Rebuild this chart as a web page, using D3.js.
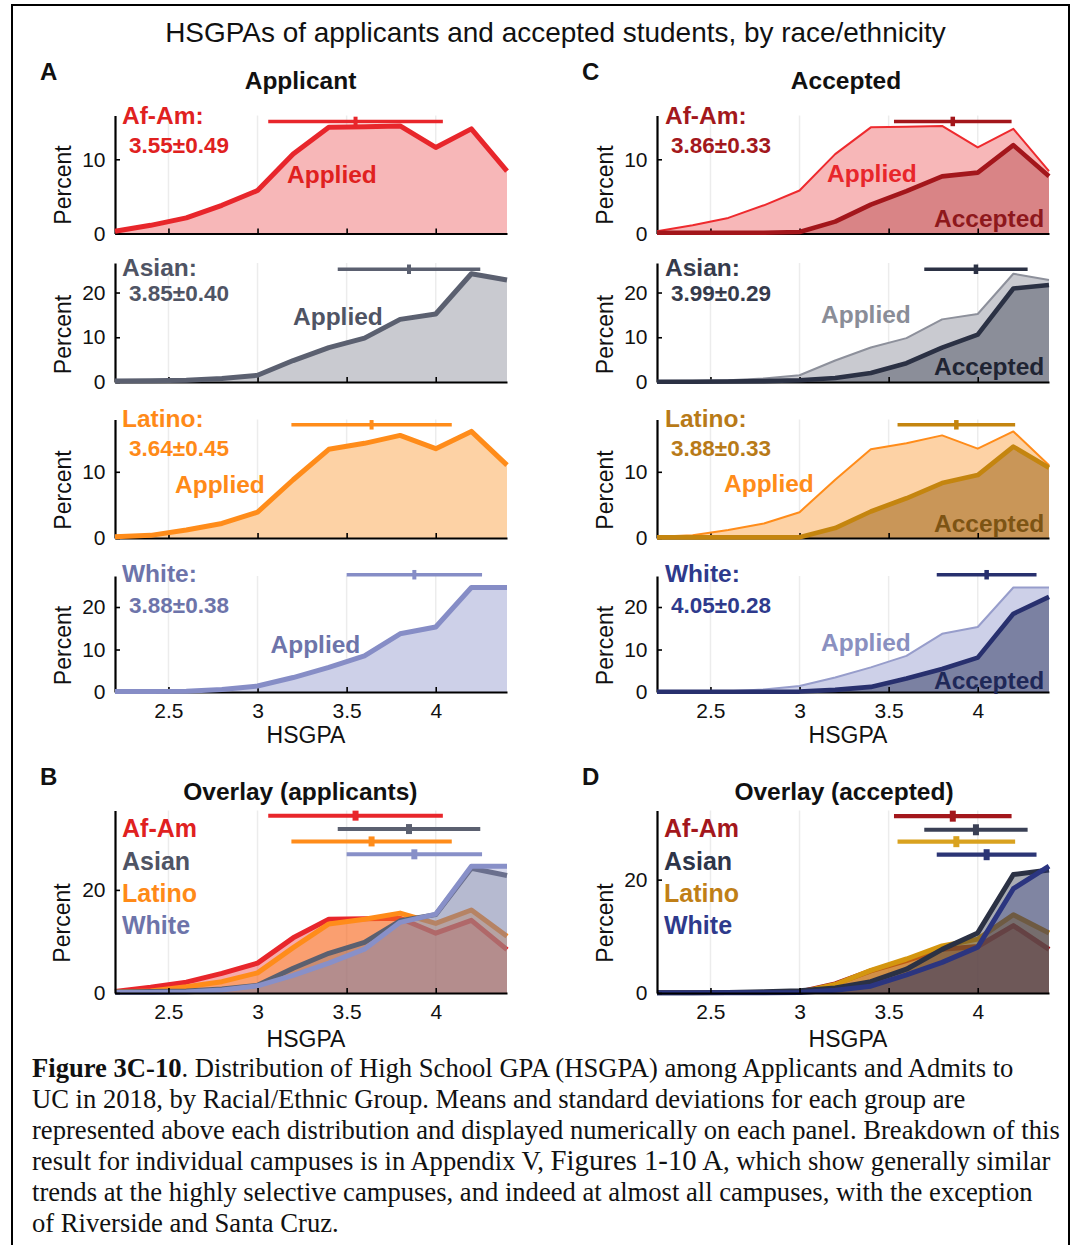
<!DOCTYPE html>
<html><head><meta charset="utf-8">
<script src="https://cdn.jsdelivr.net/npm/d3@7"></script>
<style>body{margin:0;background:#fff} svg{display:block}</style>
</head><body><svg id="c" width="1074" height="1245"></svg>
<script>
// ---------------- DATA ----------------
const gpa = [2.2, 2.4, 2.6, 2.8, 3.0, 3.2, 3.4, 3.6, 3.8, 4.0, 4.2, 4.4];
const groups = ["Af-Am", "Asian", "Latino", "White"];
const appliedAfAm    = [0.3, 1.1, 2.1, 3.8, 5.8, 10.7, 14.3, 14.4, 14.5, 11.6, 14.1, 8.4];
const appliedAsian   = [0.2, 0.3, 0.4, 0.8, 1.5, 4.8, 7.7, 9.8, 14.0, 15.2, 24.2, 22.8];
const appliedLatino  = [0.2, 0.4, 1.2, 2.2, 3.9, 8.8, 13.4, 14.3, 15.5, 13.5, 16.1, 11.0];
const appliedWhite   = [0.1, 0.1, 0.2, 0.6, 1.4, 3.4, 5.8, 8.5, 13.7, 15.3, 24.6, 24.6];
const acceptedAfAm   = [0.1, 0.1, 0.1, 0.1, 0.2, 1.6, 3.9, 5.7, 7.7, 8.2, 11.9, 7.7];
const acceptedAsian  = [0.05, 0.05, 0.1, 0.2, 0.4, 0.9, 2.0, 4.2, 7.7, 10.6, 20.9, 21.7];
const acceptedLatino = [0.1, 0.1, 0.1, 0.1, 0.1, 1.5, 4.0, 6.0, 8.3, 9.5, 13.8, 10.6];
const acceptedWhite  = [0.05, 0.05, 0.05, 0.05, 0.1, 0.5, 1.2, 3.2, 5.4, 8.1, 18.4, 22.4];
const appliedMean  = [3.55, 3.85, 3.64, 3.88];
const appliedSD    = [0.49, 0.40, 0.45, 0.38];
const acceptedMean = [3.86, 3.99, 3.88, 4.05];
const acceptedSD   = [0.33, 0.29, 0.33, 0.28];
const xTicks = [2.5, 3, 3.5, 4];
const rowYTicks = [[0, 10], [0, 10, 20], [0, 10], [0, 10, 20]];
const overlayYTicks = [0, 20];

const applied = [appliedAfAm, appliedAsian, appliedLatino, appliedWhite];
const accepted = [acceptedAfAm, acceptedAsian, acceptedLatino, acceptedWhite];

// ---------------- STYLE ----------------
const FONT = "'Liberation Sans', Arial, Helvetica, sans-serif";
const SERIF = "'Liberation Serif', 'Times New Roman', serif";
const colA      = ["#e8262b", "#5b6070", "#ff8c1a", "#868dc6"];
const fillA     = ["#f7b7b8", "#c9cad0", "#fdd2a5", "#cdd0e8"];
const textA     = ["#e0211f", "#4f5464", "#ff8a18", "#6d74aa"];
const colCApp   = ["#ee2a2e", "#8d909b", "#ff8c1a", "#979dcb"];
const fillCAcc  = ["#d98486", "#8b8e99", "#c99658", "#7b81a2"];
const colAcc    = ["#a3161b", "#2b3144", "#c4850f", "#28306e"];
const textAcc   = ["#a3181c", "#363b4c", "#b87a18", "#2e3a8c"];
const wordAcc   = ["#8e181c", "#1f2433", "#7d5414", "#1f2858"];
const wordCApp  = ["#e8262b", "#8a8d97", "#ff8c1a", "#8a90c0"];
const colB      = ["#e8262b", "#5b6070", "#ff8c1a", "#8890c8"];
const alphaB    = [0.38, 0.3, 0.42, 0.33];
const colD      = ["#a3161b", "#2b3144", "#d4960f", "#2b3580"];
const legD      = ["#a3171c", "#2e3548", "#c07f17", "#2e3a8c"];
const barD      = ["#a3171c", "#3a4055", "#d9a21f", "#2b3575"];
const alphaD    = [0.5, 0.4, 0.55, 0.33];

const svg = d3.select("#c");

// frame
svg.append("path").attr("d", "M12,1245V5H1069V1245").attr("fill", "none")
  .attr("stroke", "#000").attr("stroke-width", 2);

// ---------------- LAYOUT ----------------
const colL = {x0: 115, x1: 507}, colR = {x0: 657, x1: 1049};
const rows = [
  {bottom: 233.5, top: 115.5, yMax: 15.9, bar: 15.1, ylab: 185,  lab: 124,   val: 152.5},
  {bottom: 382,   top: 263,   yMax: 26.6, bar: 25.2, ylab: 334.5, lab: 275.5, val: 301},
  {bottom: 538,   top: 419.5, yMax: 17.9, bar: 17.1, ylab: 490,  lab: 427,   val: 456},
  {bottom: 692,   top: 576,   yMax: 27.3, bar: 27.6, ylab: 645.5, lab: 581.5, val: 613}
];
const appliedWordPosA = [[287, 183], [293, 324.5], [175, 493], [270.5, 653]];
const appliedWordPosC = [[827, 182], [821, 323], [724, 492], [821, 651]];
const acceptedWordY   = [227, 375, 531.5, 689];
const legendY = [837, 869.5, 902, 934];
const barLevelsB = [34.4, 31.8, 29.4, 26.9];
const barLevelsD = [31.2, 28.8, 26.7, 24.4];

function makePanel(p) {
  const x = d3.scaleLinear().domain([2.2, 4.4]).range([p.x0, p.x1]);
  const y = d3.scaleLinear().domain([0, p.yMax]).range([p.bottom, p.top]);
  const g = svg.append("g");
  const gGrid = g.append("g"), gFill = g.append("g"), gAxis = g.append("g"),
        gLine = g.append("g"), gBar = g.append("g"), gText = g.append("g");

  gGrid.selectAll("line").data(xTicks).join("line")
    .attr("x1", d => x(d)).attr("x2", d => x(d))
    .attr("y1", y(0)).attr("y2", y(p.yMax))
    .attr("stroke", "#ececec").attr("stroke-width", 1.5);

  const area = d3.area().x((d, i) => x(gpa[i])).y0(y(0)).y1(d => y(d));
  const line = d3.line().x((d, i) => x(gpa[i])).y(d => y(d));

  p.series.forEach(s => {
    gFill.append("path").datum(s.values).attr("d", area)
      .attr("fill", s.fill).attr("fill-opacity", s.fillOpacity == null ? 1 : s.fillOpacity);
    const lg = p.overlay ? gFill : gLine;
    lg.append("path").datum(s.values).attr("d", line)
      .attr("fill", "none").attr("stroke", s.stroke).attr("stroke-width", s.width)
      .attr("stroke-linejoin", "round").attr("stroke-linecap", "butt");
  });

  const xa = d3.axisBottom(x).tickValues(xTicks).tickSizeInner(-5).tickSizeOuter(0)
    .tickPadding(11).tickFormat(p.showX ? d3.format("") : () => "");
  const ya = d3.axisLeft(y).tickValues(p.yTicks).tickSizeInner(-5).tickSizeOuter(0)
    .tickPadding(9.5).tickFormat(d3.format("d"));
  const gx = gAxis.append("g").attr("transform", `translate(0,${y(0)})`).call(xa);
  const gy = gAxis.append("g").attr("transform", `translate(${p.x0},0)`).call(ya);
  [gx, gy].forEach(a => {
    a.select(".domain").attr("stroke", "#000").attr("stroke-width", 2.2);
    a.selectAll(".tick line").attr("stroke", "#000").attr("stroke-width", 1.6);
    a.selectAll(".tick text").attr("font-family", FONT).attr("font-size", 21).attr("fill", "#111");
  });

  p.bars.forEach(b => {
    gBar.append("line").attr("x1", x(b.mean - b.sd)).attr("x2", x(b.mean + b.sd))
      .attr("y1", y(b.level)).attr("y2", y(b.level))
      .attr("stroke", b.color).attr("stroke-width", p.barW);
    gBar.append("rect").attr("x", x(b.mean) - p.mW / 2).attr("y", y(b.level) - p.mH / 2)
      .attr("width", p.mW).attr("height", p.mH).attr("fill", b.color);
  });

  gText.append("text").attr("transform", `translate(${p.ylabX},${p.ylabY}) rotate(-90)`)
    .attr("text-anchor", "middle").attr("font-family", FONT).attr("font-size", 23)
    .attr("fill", "#111").text("Percent");
  if (p.showX) {
    gText.append("text").attr("x", (p.x0 + p.x1) / 2 - 5).attr("y", p.xlabY)
      .attr("text-anchor", "middle").attr("font-family", FONT).attr("font-size", 23)
      .attr("fill", "#111").text("HSGPA");
  }
  (p.texts || []).forEach(t => {
    gText.append("text").attr("x", t.x).attr("y", t.y).attr("font-family", FONT)
      .attr("font-size", t.size).attr("font-weight", "bold").attr("fill", t.color).text(t.text);
  });
  return {x, y};
}

const fmt = (m, s) => `${m.toFixed(2)}\u00B1${s.toFixed(2)}`;

rows.forEach((r, i) => {
  makePanel({
    x0: colL.x0, x1: colL.x1, bottom: r.bottom, top: r.top, yMax: r.yMax,
    yTicks: rowYTicks[i], showX: i === 3, xlabY: 742.5, ylabX: 71, ylabY: r.ylab,
    barW: 3.4, mW: 4, mH: 9.5,
    series: [{values: applied[i], fill: fillA[i], stroke: colA[i], width: 5}],
    bars: [{mean: appliedMean[i], sd: appliedSD[i], level: r.bar, color: colA[i]}],
    texts: [
      {x: 122, y: r.lab, size: 24.5, color: textA[i], text: groups[i] + ":"},
      {x: 129, y: r.val, size: 22.5, color: textA[i], text: fmt(appliedMean[i], appliedSD[i])},
      {x: appliedWordPosA[i][0], y: appliedWordPosA[i][1], size: 24.5, color: textA[i], text: "Applied"}
    ]
  });
  makePanel({
    x0: colR.x0, x1: colR.x1, bottom: r.bottom, top: r.top, yMax: r.yMax,
    yTicks: rowYTicks[i], showX: i === 3, xlabY: 742.5, ylabX: 613, ylabY: r.ylab,
    barW: 3.6, mW: 4.5, mH: 9.5,
    series: [
      {values: applied[i], fill: fillA[i], stroke: colCApp[i], width: 2},
      {values: accepted[i], fill: fillCAcc[i], stroke: colAcc[i], width: 4.6}
    ],
    bars: [{mean: acceptedMean[i], sd: acceptedSD[i], level: r.bar, color: colAcc[i]}],
    texts: [
      {x: 665, y: r.lab, size: 24.5, color: textAcc[i], text: groups[i] + ":"},
      {x: 671, y: r.val, size: 22.5, color: textAcc[i], text: fmt(acceptedMean[i], acceptedSD[i])},
      {x: appliedWordPosC[i][0], y: appliedWordPosC[i][1], size: 24.5, color: wordCApp[i], text: "Applied"},
      {x: 934, y: acceptedWordY[i], size: 24.5, color: wordAcc[i], text: "Accepted"}
    ]
  });
});

const overlayOrder = [0, 2, 1, 3];
makePanel({
  x0: colL.x0, x1: colL.x1, bottom: 993, top: 810.5, yMax: 35.4, overlay: true,
  yTicks: overlayYTicks, showX: true, xlabY: 1047, ylabX: 69.5, ylabY: 923,
  barW: 4, mW: 6, mH: 10,
  series: overlayOrder.map(i => ({values: applied[i], fill: colB[i], fillOpacity: alphaB[i], stroke: colB[i], width: 5})),
  bars: groups.map((gname, i) => ({mean: appliedMean[i], sd: appliedSD[i], level: barLevelsB[i], color: colB[i]})),
  texts: groups.map((gname, i) => ({x: 122, y: legendY[i], size: 25, color: textA[i], text: gname}))
});
makePanel({
  x0: colR.x0, x1: colR.x1, bottom: 993, top: 810.5, yMax: 32.2, overlay: true,
  yTicks: overlayYTicks, showX: true, xlabY: 1047, ylabX: 613, ylabY: 923,
  barW: 4.2, mW: 6, mH: 11,
  series: overlayOrder.map(i => ({values: accepted[i], fill: colD[i], fillOpacity: alphaD[i], stroke: colD[i], width: 5})),
  bars: groups.map((gname, i) => ({mean: acceptedMean[i], sd: acceptedSD[i], level: barLevelsD[i], color: barD[i]})),
  texts: groups.map((gname, i) => ({x: 664, y: legendY[i], size: 25, color: legD[i], text: gname}))
});

// ---------------- TITLES ----------------
const title = svg.append("text").attr("x", 555.5).attr("y", 42).attr("text-anchor", "middle")
  .attr("font-family", FONT).attr("font-size", 25).attr("fill", "#111")
  .text("HSGPAs of applicants and accepted students, by race/ethnicity");
{
  const w = title.node().getComputedTextLength();
  title.attr("font-size", 25 * 781 / w);
}
const heads = [
  {t: "Applicant", x: 300.5, y: 89}, {t: "Accepted", x: 846, y: 89},
  {t: "Overlay (applicants)", x: 300.4, y: 800}, {t: "Overlay (accepted)", x: 844, y: 800}
];
heads.forEach(h => svg.append("text").attr("x", h.x).attr("y", h.y).attr("text-anchor", "middle")
  .attr("font-family", FONT).attr("font-size", 24.5).attr("font-weight", "bold").attr("fill", "#111").text(h.t));
const letters = [{t: "A", x: 40, y: 80}, {t: "C", x: 582, y: 80}, {t: "B", x: 40, y: 785}, {t: "D", x: 582, y: 785}];
letters.forEach(h => svg.append("text").attr("x", h.x).attr("y", h.y)
  .attr("font-family", FONT).attr("font-size", 24).attr("font-weight", "bold").attr("fill", "#111").text(h.t));

// ---------------- CAPTION ----------------
const capLines = [
  [{t: "Figure 3C-10", b: true}, {t: ". Distribution of High School GPA (HSGPA) among Applicants and Admits to"}],
  [{t: "UC in 2018, by Racial/Ethnic Group. Means and standard deviations for each group are"}],
  [{t: "represented above each distribution and displayed numerically on each panel. Breakdown of this"}],
  [{t: "result for individual campuses is in Appendix V, "}, {t: "Figures 1-10 A", big: true}, {t: ", which show generally similar"}],
  [{t: "trends at the highly selective campuses, and indeed at almost all campuses, with the exception"}],
  [{t: "of Riverside and Santa Cruz."}]
];
const capY = [1077, 1108, 1139, 1170, 1201, 1232];
const capTexts = capLines.map((ln, i) => {
  const t = svg.append("text").attr("x", 32).attr("y", capY[i]).attr("font-family", SERIF)
    .attr("font-size", 24).attr("fill", "#111");
  ln.forEach(s => {
    const ts = t.append("tspan").text(s.t);
    if (s.b) ts.attr("font-weight", "bold");
    if (s.big) ts.attr("font-size", "1.08em");
  });
  return t;
});
{
  const w = capTexts[2].node().getComputedTextLength();
  const fs = 24 * 1028 / w;
  capTexts.forEach(t => t.attr("font-size", fs));
}
</script>
</body></html>
